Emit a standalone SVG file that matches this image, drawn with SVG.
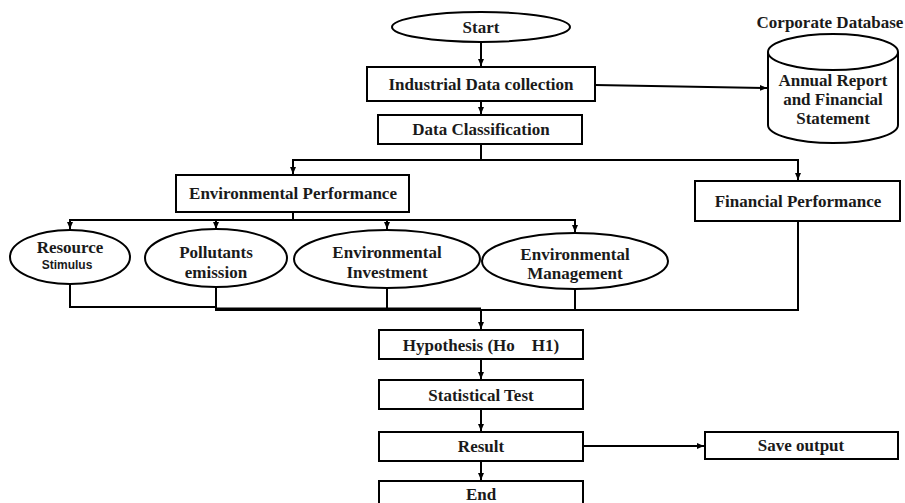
<svg xmlns="http://www.w3.org/2000/svg" width="905" height="503" viewBox="0 0 905 503">
<style>
.s{fill:#fff;stroke:#000;stroke-width:2}
.t{font-family:"Liberation Serif","Times New Roman",serif;font-weight:bold;font-size:17px;fill:#1a1a1a;text-anchor:middle}
.c{fill:none;stroke:#000;stroke-width:2}
</style>
<defs>
<marker id="a" markerWidth="8" markerHeight="8" refX="7" refY="4" orient="auto" markerUnits="userSpaceOnUse">
<path d="M0,1 L7,4 L0,7 Z" fill="#000"/>
</marker>
</defs>
<rect width="905" height="503" fill="#fff"/>
<g id="connectors">
<line class="c" x1="481" y1="42" x2="481" y2="66" marker-end="url(#a)"/>
<line class="c" x1="481" y1="101" x2="481" y2="114" marker-end="url(#a)"/>
<line class="c" x1="595" y1="85" x2="767" y2="88" marker-end="url(#a)"/>
<polyline class="c" points="481,144 481,160"/>
<polyline class="c" points="293,174 293,160 798,160 798,180" marker-end="url(#a)"/>
<line class="c" x1="293" y1="160" x2="293" y2="174" marker-end="url(#a)"/>
<polyline class="c" points="293,212 293,220"/>
<polyline class="c" points="70,229 70,220 575,220 575,232" marker-end="url(#a)"/>
<line class="c" x1="70" y1="220" x2="70" y2="229" marker-end="url(#a)"/>
<line class="c" x1="216" y1="220" x2="216" y2="229" marker-end="url(#a)"/>
<line class="c" x1="387" y1="220" x2="387" y2="229" marker-end="url(#a)"/>
<polyline class="c" points="70,284 70,307 216,307"/>
<polyline class="c" points="216,287 216,310 798,310 798,221"/>
<line class="c" x1="387" y1="288" x2="387" y2="310"/>
<line class="c" x1="575" y1="290" x2="575" y2="310"/>
<line class="c" x1="216" y1="308.5" x2="481" y2="308.5" stroke-width="3"/>
<line class="c" x1="481" y1="310" x2="481" y2="329" marker-end="url(#a)"/>
<line class="c" x1="481" y1="359" x2="481" y2="379" marker-end="url(#a)"/>
<line class="c" x1="481" y1="409" x2="481" y2="431" marker-end="url(#a)"/>
<line class="c" x1="481" y1="461" x2="481" y2="480" marker-end="url(#a)"/>
<line class="c" x1="583" y1="446" x2="704" y2="446" marker-end="url(#a)"/>
</g>
<g id="start"><ellipse class="s" cx="481" cy="27" rx="89" ry="15"/><text class="t" x="481" y="33">Start</text></g>
<g id="collect"><rect class="s" x="367" y="67" width="228" height="34"/><text class="t" x="481" y="90">Industrial Data collection</text></g>
<g id="classify"><rect class="s" x="378" y="115" width="204" height="29"/><text class="t" x="481" y="135">Data Classification</text></g>
<g id="database">
<text class="t" x="830" y="28">Corporate Database</text>
<path class="s" d="M768,52 L768,125 A65,18 0 0 0 898,125 L898,52"/>
<ellipse class="s" cx="833" cy="52" rx="65" ry="18"/>
<text class="t" x="833" y="86">Annual Report</text>
<text class="t" x="833" y="105">and Financial</text>
<text class="t" x="833" y="124">Statement</text>
</g>
<g id="envperf"><rect class="s" x="176" y="175" width="233" height="37"/><text class="t" x="293" y="199">Environmental Performance</text></g>
<g id="finperf"><rect class="s" x="695" y="181" width="205" height="40"/><text class="t" x="798" y="207">Financial Performance</text></g>
<g id="resource"><ellipse class="s" cx="70" cy="257" rx="60" ry="27"/><text class="t" x="70" y="253">Resource</text><text x="67" y="269" style="font-family:'Liberation Sans',Arial,sans-serif;font-weight:bold;font-size:12px;fill:#1a1a1a;text-anchor:middle">Stimulus</text></g>
<g id="pollutants"><ellipse class="s" cx="216" cy="258" rx="71" ry="29"/><text class="t" x="216" y="258">Pollutants</text><text class="t" x="216" y="278">emission</text></g>
<g id="investment"><ellipse class="s" cx="387" cy="259" rx="93" ry="29"/><text class="t" x="387" y="258">Environmental</text><text class="t" x="387" y="278">Investment</text></g>
<g id="management"><ellipse class="s" cx="575" cy="261" rx="93" ry="28"/><text class="t" x="575" y="260">Environmental</text><text class="t" x="575" y="279">Management</text></g>
<g id="hypothesis"><rect class="s" x="379" y="330" width="204" height="29"/><text class="t" x="481" y="351" xml:space="preserve">Hypothesis (Ho    H1)</text></g>
<g id="stattest"><rect class="s" x="379" y="380" width="204" height="29"/><text class="t" x="481" y="401">Statistical Test</text></g>
<g id="result"><rect class="s" x="379" y="432" width="204" height="29"/><text class="t" x="481" y="452">Result</text></g>
<g id="save"><rect class="s" x="705" y="432" width="193" height="27"/><text class="t" x="801" y="451">Save output</text></g>
<g id="end"><rect class="s" x="379" y="481" width="204" height="24"/><text class="t" x="481" y="500">End</text></g>
</svg>
